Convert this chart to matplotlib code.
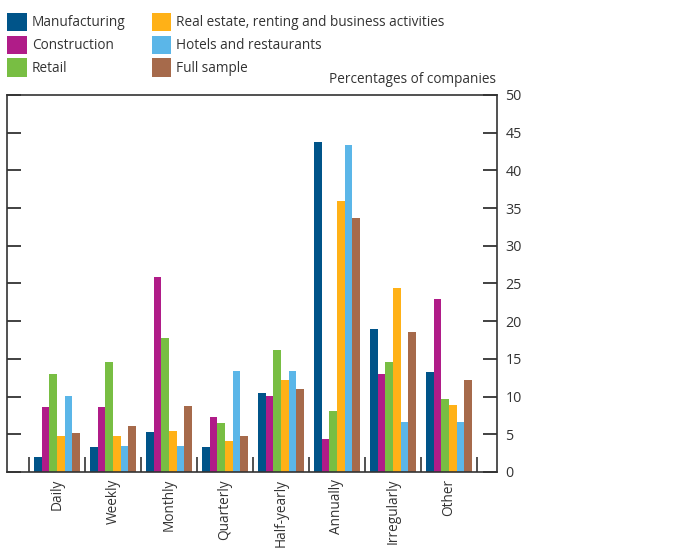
import matplotlib
matplotlib.use("Agg")
import matplotlib.pyplot as plt
import numpy as np

plt.rcParams['font.family'] = ['Open Sans', 'DejaVu Sans']

categories = ['Daily', 'Weekly', 'Monthly', 'Quarterly', 'Half-yearly',
              'Annually', 'Irregularly', 'Other']
series = ['Manufacturing', 'Construction', 'Retail',
          'Real estate, renting and business activities',
          'Hotels and restaurants', 'Full sample']
manufacturing = [2.0, 3.3, 5.3, 3.3, 10.5, 43.8, 19.0, 13.2]
construction = [8.6, 8.6, 25.9, 7.3, 10.1, 4.4, 13.0, 23.0]
retail = [13.0, 14.6, 17.8, 6.5, 16.2, 8.1, 14.6, 9.7]
real_estate = [4.8, 4.8, 5.4, 4.1, 12.2, 35.9, 24.4, 8.9]
hotels = [10.1, 3.5, 3.5, 13.4, 13.4, 43.4, 6.6, 6.6]
full_sample = [5.2, 6.1, 8.8, 4.8, 11.0, 33.7, 18.6, 12.2]
values = [manufacturing, construction, retail, real_estate, hotels, full_sample]
colors = ['#005489', '#B01C88', '#78BE43', '#FFB117', '#5BB6E8', '#A66A4B']

fig = plt.figure(figsize=(6.82, 5.52), dpi=100)
ax = fig.add_axes([0.0103, 0.145, 0.7184, 0.683])

x = np.arange(len(categories))
w = 0.137
handles = []
for i, (vals, col, name) in enumerate(zip(values, colors, series)):
    b = ax.bar(x + (i - 2.5) * w, vals, w, color=col, label=name)
    handles.append(b)

ax.set_xlim(-0.893, 7.857)
ax.set_ylim(0, 50)

# y axis: labels on the right, ticks inward on both sides
ax.yaxis.tick_right()
ax.set_yticks(np.arange(0, 51, 5))
ax.tick_params(axis='y', which='major', direction='in', length=10, width=1.3,
               left=True, right=True, labelleft=False, labelright=True,
               labelsize=10.3, colors='#333333', pad=6)

# x axis: rotated labels at centers, separators as inward minor ticks
ax.set_xticks(x)
ax.set_xticklabels(categories, rotation=90, fontsize=9.8, color='#333333')
ax.set_xticks(np.arange(-0.5, 8, 1), minor=True)
ax.tick_params(axis='x', which='major', length=0, pad=5)
ax.tick_params(axis='x', which='minor', direction='in', length=11, width=1.2,
               color='#333333')

for s in ax.spines.values():
    s.set_color('#333333')
    s.set_linewidth(1.2)

fig.text(0.728, 0.843, 'Percentages of companies', ha='right', va='bottom',
         fontsize=9.8, color='#333333')

fig.legend(handles=handles, labels=series, ncol=2, loc='upper left',
           bbox_to_anchor=(0.003, 0.987), frameon=False, fontsize=9.8,
           handlelength=1.45, handleheight=1.75, handletextpad=0.35,
           labelspacing=0.3, columnspacing=1.9, borderaxespad=0,
           labelcolor='#333333')

fig.savefig('out.png', dpi=100)
